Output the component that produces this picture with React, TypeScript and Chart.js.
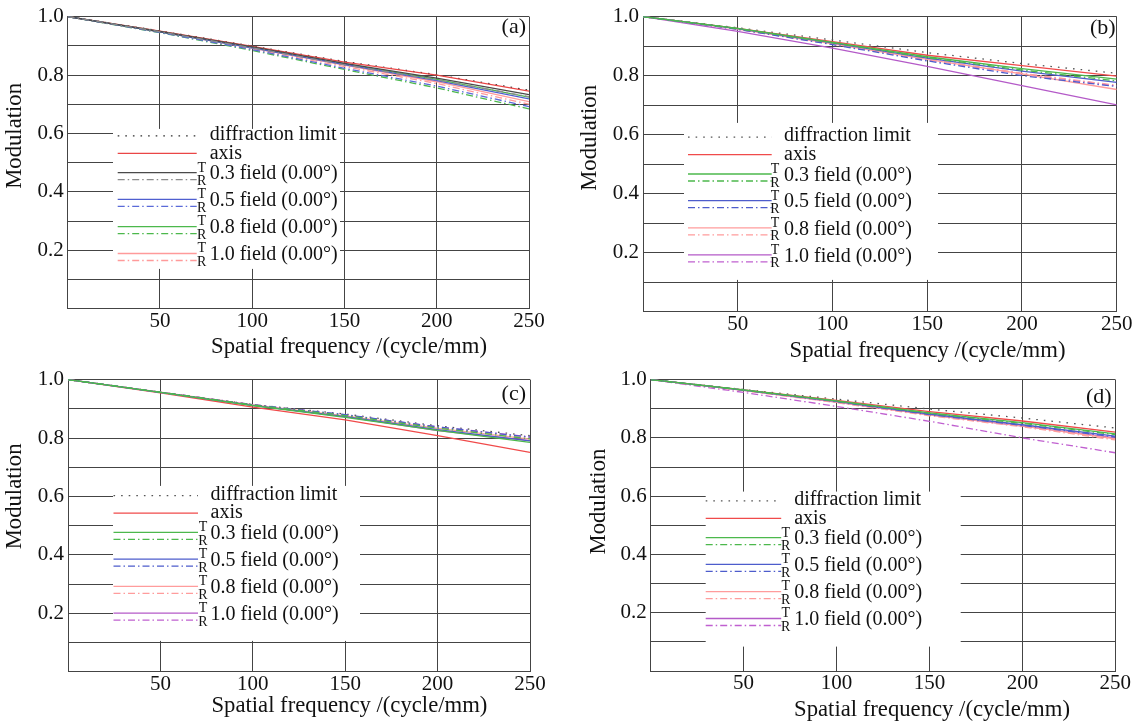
import React, { useEffect, useRef } from "react";
import { Chart, registerables } from "chart.js";

Chart.register(...registerables);

const FONT = "'Liberation Serif', 'Times New Roman', serif";

// ---------- data ----------
const FREQ = [0, 50, 100, 150, 200, 250];
const X_TICKS = [50, 100, 150, 200, 250];
const Y_LABELED = [0.2, 0.4, 0.6, 0.8, 1.0];
const X_TITLE = "Spatial frequency /(cycle/mm)";
const Y_TITLE = "Modulation";
const DIFF_NAME = "diffraction limit";
const AXIS_NAME = "axis";
const FIELD_NAMES = ["0.3 field (0.00°)", "0.5 field (0.00°)", "0.8 field (0.00°)", "1.0 field (0.00°)"];
const PANEL_TAGS = ["(a)", "(b)", "(c)", "(d)"];

// panel (a)
const A_DIFF = [1.0, 0.951, 0.899, 0.846, 0.801, 0.748];
const A_AXIS = [1.0, 0.950, 0.898, 0.844, 0.800, 0.745];
const A_03T = [1.0, 0.949, 0.896, 0.840, 0.789, 0.733];
const A_03R = [1.0, 0.948, 0.893, 0.835, 0.783, 0.726];
const A_05T = [1.0, 0.948, 0.893, 0.836, 0.781, 0.718];
const A_05R = [1.0, 0.946, 0.887, 0.823, 0.762, 0.692];
const A_08T = [1.0, 0.948, 0.894, 0.838, 0.785, 0.724];
const A_08R = [1.0, 0.945, 0.884, 0.819, 0.756, 0.684];
const A_10T = [1.0, 0.948, 0.892, 0.834, 0.777, 0.709];
const A_10R = [1.0, 0.947, 0.889, 0.829, 0.771, 0.700];

// panel (b)
const B_DIFF = [1.0, 0.962, 0.921, 0.878, 0.841, 0.808];
const B_AXIS = [1.0, 0.960, 0.915, 0.869, 0.834, 0.798];
const B_03T = [1.0, 0.960, 0.913, 0.864, 0.824, 0.788];
const B_03R = [1.0, 0.959, 0.911, 0.861, 0.819, 0.782];
const B_05T = [1.0, 0.959, 0.911, 0.859, 0.815, 0.777];
const B_05R = [1.0, 0.957, 0.905, 0.850, 0.800, 0.763];
const B_08T = [1.0, 0.958, 0.908, 0.855, 0.806, 0.753];
const B_08R = [1.0, 0.958, 0.908, 0.856, 0.808, 0.767];
const B_10T = [1.0, 0.950, 0.893, 0.831, 0.766, 0.701];
const B_10R = [1.0, 0.957, 0.907, 0.854, 0.806, 0.765];

// panel (c)
const C_DIFF = [1.0, 0.957, 0.915, 0.882, 0.842, 0.808];
const C_AXIS = [1.0, 0.955, 0.906, 0.862, 0.808, 0.751];
const C_03T = [1.0, 0.956, 0.911, 0.871, 0.826, 0.785];
const C_03R = [1.0, 0.957, 0.913, 0.877, 0.834, 0.797];
const C_05T = [1.0, 0.956, 0.912, 0.873, 0.829, 0.790];
const C_05R = [1.0, 0.957, 0.914, 0.880, 0.838, 0.803];
const C_08T = [1.0, 0.957, 0.913, 0.876, 0.833, 0.796];
const C_08R = [1.0, 0.957, 0.914, 0.878, 0.836, 0.800];
const C_10T = [1.0, 0.956, 0.912, 0.873, 0.825, 0.791];
const C_10R = [1.0, 0.957, 0.914, 0.879, 0.838, 0.804];

// panel (d)
const D_DIFF = [1.0, 0.966, 0.933, 0.899, 0.868, 0.834];
const D_AXIS = [1.0, 0.965, 0.929, 0.890, 0.858, 0.820];
const D_03T = [1.0, 0.965, 0.927, 0.886, 0.852, 0.814];
const D_03R = [1.0, 0.964, 0.926, 0.884, 0.850, 0.811];
const D_05T = [1.0, 0.964, 0.925, 0.882, 0.845, 0.806];
const D_05R = [1.0, 0.964, 0.924, 0.880, 0.843, 0.803];
const D_08T = [1.0, 0.963, 0.923, 0.879, 0.841, 0.797];
const D_08R = [1.0, 0.962, 0.921, 0.876, 0.838, 0.793];
const D_10T = [1.0, 0.963, 0.923, 0.879, 0.840, 0.800];
const D_10R = [1.0, 0.956, 0.908, 0.857, 0.800, 0.749];

// ---------- styles ----------
const COLORS_A = { diff: "#2e2e2e", axis: "#ea4646", f: ["#4a4a4a", "#4f5fd0", "#4cb84c", "#ff9a9a"], r: ["#8c8c8c", "#5a6ad8", "#4cb84c", "#ff9a9a"] };
const COLORS_BCD = { diff: "#555555", axis: "#f04a4a", f: ["#4cb84c", "#4d5ccc", "#ff9c9c", "#b45ac8"], r: ["#4cb84c", "#4d5ccc", "#ff9c9c", "#c060d0"] };
const DOT = [1.6, 6];
const DASHDOT = [7, 3, 1.5, 3];
const GRID = "#444";

const PANELS = [
  { tag: PANEL_TAGS[0], diff: A_DIFF, axis: A_AXIS, fields: [[A_03T, A_03R], [A_05T, A_05R], [A_08T, A_08R], [A_10T, A_10R]], colors: COLORS_A },
  { tag: PANEL_TAGS[1], diff: B_DIFF, axis: B_AXIS, fields: [[B_03T, B_03R], [B_05T, B_05R], [B_08T, B_08R], [B_10T, B_10R]], colors: COLORS_BCD },
  { tag: PANEL_TAGS[2], diff: C_DIFF, axis: C_AXIS, fields: [[C_03T, C_03R], [C_05T, C_05R], [C_08T, C_08R], [C_10T, C_10R]], colors: COLORS_BCD },
  { tag: PANEL_TAGS[3], diff: D_DIFF, axis: D_AXIS, fields: [[D_03T, D_03R], [D_05T, D_05R], [D_08T, D_08R], [D_10T, D_10R]], colors: COLORS_BCD },
];

const LAYOUTS = [
  { x: 0, y: 0, w: 574, h: 363, plotLeft: 67.7, plotTop: 15.7, plotRight: 529, plotBottom: 308.7, box: [45.3, 112.3, 227, 140], lineX: [50, 129], trX: 134, textX: 142, row0: 118.3, yTitle: [-52.5, 119.3], xTitle: [281.3, 38], tag: [-3, 10.3] },
  { x: 574, y: 0, w: 574, h: 363, plotLeft: 69, plotTop: 13.7, plotRight: 542.7, plotBottom: 311.7, box: [41, 106.3, 254, 157], lineX: [45, 128.7], trX: 132, textX: 141, row0: 119.6, yTitle: [-53.4, 121.3], xTitle: [284.5, 39], tag: [-1, 11.3] },
  { x: 0, y: 363, w: 574, h: 363, plotLeft: 68, plotTop: 15.7, plotRight: 530, plotBottom: 308.7, box: [45, 106.3, 247, 155], lineX: [45.5, 130], trX: 135, textX: 142.6, row0: 115, yTitle: [-52.5, 116.8], xTitle: [281.4, 34.6], tag: [-4, 14.6] },
  { x: 574, y: 363, w: 574, h: 363, plotLeft: 76.7, plotTop: 13, plotRight: 541.3, plotBottom: 308, box: [55, 112, 255, 155], lineX: [55, 130.5], trX: 135, textX: 143.5, row0: 120.3, yTitle: [-51.9, 122], xTitle: [281.3, 38.7], tag: [-3.6, 17.3] },
];

const ROW_OFFSETS = [0, 18.5, 39.3, 66, 93.2, 120.1];

function Panel({ panel, layout }: { panel: any; layout: any }) {
  const ref = useRef<HTMLCanvasElement | null>(null);

  useEffect(() => {
    const canvas = ref.current;
    if (!canvas) return;
    const L = layout;
    const P = panel;
    const mk = (label: string, vals: number[], color: string, dash: number[]) => ({
      label,
      data: FREQ.map((f, i) => ({ x: f, y: vals[i] })),
      borderColor: color,
      backgroundColor: color,
      borderWidth: 1.3,
      borderDash: dash,
      pointRadius: 0,
      fill: false,
      tension: 0,
    });
    const datasets: any[] = [];
    P.fields.forEach((pair: number[][], i: number) => {
      datasets.push(mk(FIELD_NAMES[i] + " R", pair[1], P.colors.r[i], DASHDOT));
      datasets.push(mk(FIELD_NAMES[i] + " T", pair[0], P.colors.f[i], []));
    });
    datasets.push(mk(AXIS_NAME, P.axis, P.colors.axis, []));
    datasets.push(mk(DIFF_NAME, P.diff, P.colors.diff, DOT));

    const overlay = {
      id: "overlay",
      beforeDatasetsDraw(chart: any) {
        const ctx = chart.ctx;
        const a = chart.chartArea;
        ctx.save();
        ctx.fillStyle = "#ffffff";
        ctx.fillRect(a.left + L.box[0], a.top + L.box[1], L.box[2], L.box[3]);
        ctx.restore();
      },
      afterDraw(chart: any) {
        const ctx = chart.ctx;
        const a = chart.chartArea;
        ctx.save();
        ctx.fillStyle = "#111";
        ctx.textBaseline = "middle";
        const x0 = a.left + L.lineX[0];
        const x1 = a.left + L.lineX[1];
        const line = (y: number, color: string, dash: number[]) => {
          ctx.beginPath();
          ctx.strokeStyle = color;
          ctx.lineWidth = 1.3;
          ctx.setLineDash(dash);
          ctx.moveTo(x0, y);
          ctx.lineTo(x1, y);
          ctx.stroke();
        };
        const rows = ROW_OFFSETS.map((o) => a.top + L.row0 + o);
        line(rows[0] + 1, P.colors.diff, DOT);
        line(rows[1], P.colors.axis, []);
        ctx.setLineDash([]);
        ctx.font = `20px ${FONT}`;
        ctx.textAlign = "left";
        ctx.fillText(DIFF_NAME, a.left + L.textX, rows[0]);
        ctx.fillText(AXIS_NAME, a.left + L.textX, rows[1]);
        for (let i = 0; i < 4; i++) {
          const y = rows[2 + i];
          line(y - 1.5, P.colors.f[i], []);
          line(y + 5.5, P.colors.r[i], DASHDOT);
          ctx.setLineDash([]);
          ctx.font = `14px ${FONT}`;
          ctx.textAlign = "center";
          ctx.fillText("T", a.left + L.trX, y - 6.3);
          ctx.fillText("R", a.left + L.trX, y + 7.4);
          ctx.font = `20px ${FONT}`;
          ctx.textAlign = "left";
          ctx.fillText(FIELD_NAMES[i], a.left + L.textX, y);
        }
        ctx.font = `22px ${FONT}`;
        ctx.textAlign = "right";
        ctx.fillText(P.tag, a.right + L.tag[0], a.top + L.tag[1]);
        ctx.font = `22.7px ${FONT}`;
        ctx.textAlign = "center";
        ctx.fillText(X_TITLE, a.left + L.xTitle[0], a.bottom + L.xTitle[1]);
        ctx.translate(a.left + L.yTitle[0], a.top + L.yTitle[1]);
        ctx.rotate(-Math.PI / 2);
        ctx.fillText(Y_TITLE, 0, 0);
        ctx.restore();
      },
    };

    const chart = new Chart(canvas, {
      type: "line",
      data: { datasets },
      options: {
        animation: false,
        responsive: false,
        devicePixelRatio: 1,
        layout: { padding: { left: 0, top: L.plotTop, right: L.w - L.plotRight, bottom: 0 } },
        plugins: { legend: { display: false }, tooltip: { enabled: false }, title: { display: false } },
        scales: {
          x: {
            type: "linear",
            min: 0,
            max: 250,
            afterFit: (s: any) => {
              s.height = L.h - L.plotBottom;
            },
            ticks: {
              stepSize: 50,
              autoSkip: false,
              maxRotation: 0,
              padding: 0,
              color: "#111",
              font: { family: FONT, size: 21 },
              callback: (v: any) => (X_TICKS.includes(Number(v)) ? String(v) : ""),
            },
            grid: { color: GRID, lineWidth: 1, drawTicks: false },
            border: { color: GRID, width: 1 },
          },
          y: {
            type: "linear",
            min: 0,
            max: 1,
            afterFit: (s: any) => {
              s.width = L.plotLeft;
            },
            ticks: {
              stepSize: 0.1,
              autoSkip: false,
              padding: 4,
              color: "#111",
              font: { family: FONT, size: 21 },
              callback: (v: any) => {
                const t = Math.round(Number(v) * 10) / 10;
                return Y_LABELED.some((q) => Math.abs(q - t) < 1e-6) ? t.toFixed(1) : "";
              },
            },
            grid: { color: GRID, lineWidth: 1, drawTicks: false },
            border: { color: GRID, width: 1 },
          },
        },
      } as any,
      plugins: [overlay],
    });
    return () => chart.destroy();
  }, [panel, layout]);

  return (
    <canvas
      ref={ref}
      width={layout.w}
      height={layout.h}
      style={{ position: "absolute", left: layout.x, top: layout.y, width: layout.w, height: layout.h }}
    />
  );
}

export default function App() {
  return (
    <div style={{ position: "absolute", left: 0, top: 0, width: 1148, height: 726, background: "#fff", overflow: "hidden" }}>
      {PANELS.map((p, i) => (
        <Panel key={i} panel={p} layout={LAYOUTS[i]} />
      ))}
    </div>
  );
}
